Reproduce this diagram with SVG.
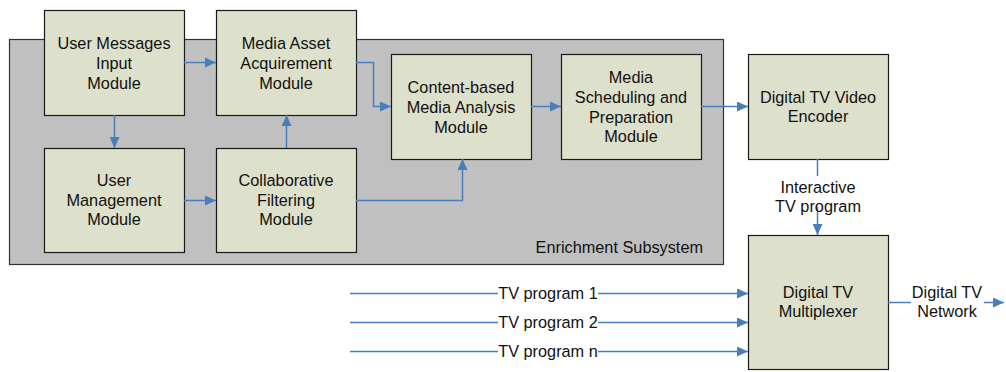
<svg xmlns="http://www.w3.org/2000/svg" width="1006" height="372" viewBox="0 0 1006 372">
<style>
.node{fill:#dde0ca;stroke:#1a1a1a;stroke-width:1.2}
.cont{fill:#c0c0c0;stroke:#333;stroke-width:1.2}
text{font-family:"Liberation Sans",Arial,sans-serif;font-size:16.3px;fill:#111;text-anchor:middle}
.c{fill:none;stroke:#4a7ebb;stroke-width:1.5}
</style>
<defs>
<marker id="a" markerUnits="userSpaceOnUse" markerWidth="11" markerHeight="10" refX="11" refY="5" orient="auto">
<path d="M0,0 L11,5 L0,10 z" fill="#4a7ebb"/>
</marker>
</defs>
<rect width="1006" height="372" fill="#fff"/>
<g id="enrichment">
<rect class="cont" x="9.5" y="39.5" width="714" height="225"/>
<text x="703" y="253" style="text-anchor:end">Enrichment Subsystem</text>
</g>
<g id="umi"><rect class="node" x="44.5" y="10.5" width="140" height="105"/>
<text x="114" y="49">User Messages</text><text x="114" y="69">Input</text><text x="114" y="89">Module</text></g>
<g id="maa"><rect class="node" x="216.5" y="10.5" width="140" height="105"/>
<text x="286" y="49">Media Asset</text><text x="286" y="69">Acquirement</text><text x="286" y="89">Module</text></g>
<g id="um"><rect class="node" x="44.5" y="148.5" width="140" height="104"/>
<text x="114" y="186">User</text><text x="114" y="206">Management</text><text x="114" y="225">Module</text></g>
<g id="cf"><rect class="node" x="216.5" y="148.5" width="140" height="104"/>
<text x="286" y="186">Collaborative</text><text x="286" y="206">Filtering</text><text x="286" y="225">Module</text></g>
<g id="cbma"><rect class="node" x="391.5" y="54.5" width="140" height="105"/>
<text x="461" y="93">Content-based</text><text x="461" y="113">Media Analysis</text><text x="461" y="133">Module</text></g>
<g id="ms"><rect class="node" x="561.5" y="54.5" width="140" height="105"/>
<text x="631" y="83">Media</text><text x="631" y="103">Scheduling and</text><text x="631" y="123">Preparation</text><text x="631" y="142">Module</text></g>
<g id="enc"><rect class="node" x="748.5" y="54.5" width="140" height="105"/>
<text x="818" y="103">Digital TV Video</text><text x="818" y="122">Encoder</text></g>
<g id="mux"><rect class="node" x="748.5" y="235.5" width="140" height="134"/>
<text x="818" y="298">Digital TV</text><text x="818" y="317">Multiplexer</text></g>
<g id="connectors">
<path class="c" d="M184,62.5 H216" marker-end="url(#a)"/>
<path class="c" d="M114.5,115 V148" marker-end="url(#a)"/>
<path class="c" d="M184,200.5 H216" marker-end="url(#a)"/>
<path class="c" d="M286.5,148 V115" marker-end="url(#a)"/>
<path class="c" d="M356,62.5 H373.5 V106.5 H391" marker-end="url(#a)"/>
<path class="c" d="M356,200.5 H462.5 V159" marker-end="url(#a)"/>
<path class="c" d="M531,106.5 H561" marker-end="url(#a)"/>
<path class="c" d="M701,106.5 H748" marker-end="url(#a)"/>
<path class="c" d="M817.5,159 V176"/>
<path class="c" d="M817.5,207 V235" marker-end="url(#a)"/>
<text x="818" y="193">Interactive</text><text x="818" y="212">TV program</text>
<path class="c" d="M350,293.5 H498 M598,293.5 H748" marker-end="url(#a)"/>
<path class="c" d="M350,322.5 H498 M598,322.5 H748" marker-end="url(#a)"/>
<path class="c" d="M350,351.5 H498 M598,351.5 H748" marker-end="url(#a)"/>
<text x="548" y="299">TV program 1</text>
<text x="548" y="328">TV program 2</text>
<text x="548" y="357">TV program n</text>
<path class="c" d="M888,302.5 H911 M984,302.5 H1004" marker-end="url(#a)"/>
<text x="947" y="298">Digital TV</text><text x="947" y="317">Network</text>
</g>
</svg>
